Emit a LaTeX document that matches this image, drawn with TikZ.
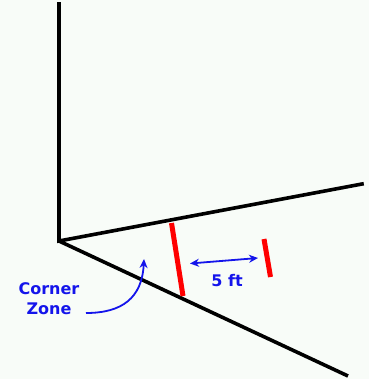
\documentclass[tikz,border=0pt]{standalone}
\usepackage{fontspec}
\setmainfont{DejaVu Sans}
\usetikzlibrary{arrows.meta}
\definecolor{bg}{RGB}{248,252,248}
\definecolor{lblue}{RGB}{20,20,235}
\begin{document}
\begin{tikzpicture}[x=1pt,y=-1pt,
  wall/.style={line width=3.6pt,black},
  marker/.style={line width=5pt,red},
  lbl/.style={text=lblue,font=\bfseries\fontsize{16}{18}\selectfont,align=center,inner sep=0pt},
  barrow/.style={line width=1.8pt,lblue,{Stealth[length=9pt,width=8pt]}-{Stealth[length=9pt,width=8pt]}},
  carrow/.style={line width=1.8pt,lblue,-{Stealth[length=9pt,width=8pt]}}]
\fill[bg] (0,0) rectangle (369,379);
\useasboundingbox (0,0) rectangle (369,379);
\coordinate (top) at (59,4);
\coordinate (corner) at (59,241);
\coordinate (right) at (362,184);
\coordinate (low) at (348,376);
\draw[wall,line cap=rect] (top) -- (corner) -- (right);
\draw[wall] (corner) -- (low);
\coordinate (r1a) at (171.5,223);
\coordinate (r1b) at (183,296);
\coordinate (r2a) at (264,239);
\coordinate (r2b) at (270.5,277);
\draw[marker] (r1a) -- (r1b);
\draw[marker] (r2a) -- (r2b);
\coordinate (aL) at (190,263.5);
\coordinate (aR) at (258,258);
\draw[barrow] (aL) -- (aR);
\node[lbl] (ft) at (227,281) {5 ft};
\node[lbl] (cz) at (49,299) {Corner\\[2pt]Zone};
\coordinate (cs) at (86,313);
\coordinate (ce) at (144,259);
\draw[carrow] (cs) .. controls (122,313) and (142,298) .. (ce);
\end{tikzpicture}
\end{document}
